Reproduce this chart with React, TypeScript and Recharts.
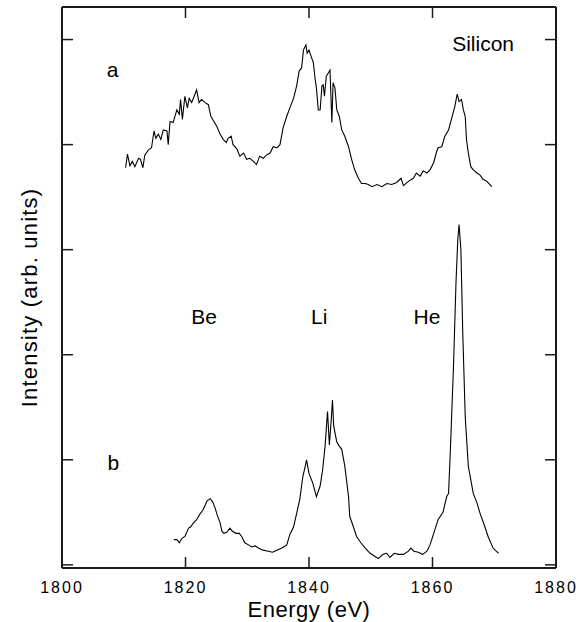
import { LineChart, Line, XAxis, YAxis, ReferenceDot } from 'recharts'

// spectrum a (upper trace)
const energyA = [
  1810.3, 1810.6, 1811.0, 1811.4, 1811.8, 1812.4, 1812.7, 1813.1, 1813.4, 1814.0, 1814.5, 1814.9, 1815.2,
  1815.6, 1816.0, 1816.4, 1817.0, 1817.2, 1817.5, 1818.0, 1818.6, 1819.0, 1819.2, 1819.5, 1819.9, 1820.3,
  1820.6, 1821.0, 1821.4, 1821.8, 1822.2, 1822.6, 1823.2, 1823.7, 1824.1, 1824.6, 1825.1, 1825.6, 1826.1,
  1826.6, 1826.9, 1827.4, 1827.7, 1828.3, 1828.8, 1829.4, 1829.9, 1830.4, 1831.0, 1831.5, 1832.0, 1832.6,
  1833.1, 1833.7, 1834.2, 1834.8, 1835.3, 1835.8, 1836.4, 1836.9, 1837.5, 1838.0, 1838.4, 1838.8, 1839.1,
  1839.5, 1839.7, 1840.0, 1840.4, 1840.7, 1841.0, 1841.2, 1841.5, 1841.8, 1842.1, 1842.3, 1842.5, 1842.8,
  1843.1, 1843.4, 1843.7, 1843.9, 1844.2, 1844.5, 1844.9, 1845.3, 1845.8, 1846.4, 1846.9, 1847.4, 1848.0,
  1848.5, 1849.1, 1849.6, 1850.2, 1851.0, 1851.8, 1852.6, 1853.4, 1854.2, 1854.9, 1855.3, 1856.1, 1856.9,
  1857.4, 1858.0, 1858.5, 1859.1, 1859.6, 1860.2, 1860.6, 1860.9, 1861.5, 1862.0, 1862.6, 1863.1, 1863.6,
  1864.0, 1864.3, 1864.7, 1865.0, 1865.3, 1865.5, 1865.8, 1866.2, 1866.6, 1867.2, 1867.7, 1868.2, 1868.8,
  1869.3, 1869.6,
]
const intensityA = [
  3.78, 3.91, 3.8, 3.84, 3.79, 3.87, 3.86, 3.78, 3.9, 3.95, 3.97, 4.13, 4.06,
  4.1, 4.05, 4.14, 4.13, 4.0, 4.22, 4.21, 4.33, 4.29, 4.43, 4.24, 4.46, 4.35,
  4.44, 4.4, 4.46, 4.52, 4.4, 4.43, 4.4, 4.38, 4.27, 4.22, 4.17, 4.1, 4.05,
  4.02, 4.06, 4.08, 4.0, 3.96, 3.89, 3.92, 3.86, 3.87, 3.84, 3.81, 3.89, 3.87,
  3.9, 3.92, 3.98, 3.97, 4.0, 4.16, 4.27, 4.35, 4.44, 4.56, 4.7, 4.73, 4.9,
  4.95, 4.87, 4.9, 4.83, 4.78, 4.62, 4.54, 4.33, 4.33, 4.56, 4.57, 4.46, 4.65,
  4.68, 4.71, 4.21, 4.59, 4.54, 4.33, 4.27, 4.14, 4.08, 3.98, 3.86, 3.76, 3.68,
  3.63, 3.63, 3.62, 3.6, 3.62, 3.6, 3.63, 3.62, 3.64, 3.68, 3.61, 3.65, 3.68,
  3.73, 3.7, 3.75, 3.73, 3.76, 3.83, 3.92, 3.97, 3.98, 4.08, 4.14, 4.25, 4.36,
  4.48, 4.41, 4.43, 4.33, 4.27, 4.05, 3.92, 3.79, 3.76, 3.73, 3.71, 3.67, 3.65,
  3.62, 3.6,
]

// spectrum b (lower trace)
const energyB = [
  1818.1, 1818.6, 1819.0, 1819.4, 1819.9, 1820.5, 1820.8, 1821.3, 1821.8, 1822.3, 1822.8, 1823.2, 1823.5,
  1824.0, 1824.4, 1824.8, 1825.1, 1825.6, 1825.9, 1826.2, 1826.7, 1827.2, 1827.6, 1828.2, 1828.7, 1829.1,
  1829.6, 1830.2, 1830.7, 1831.3, 1831.8, 1832.6, 1833.4, 1834.1, 1834.8, 1835.6, 1836.4, 1836.9, 1837.5,
  1838.0, 1838.5, 1839.0, 1839.4, 1839.6, 1840.0, 1840.6, 1841.2, 1841.8, 1842.2, 1842.6, 1843.0, 1843.3,
  1843.6, 1843.8, 1844.0, 1844.5, 1844.9, 1845.3, 1845.8, 1846.4, 1846.6, 1847.2, 1847.7, 1848.4, 1849.1,
  1849.9, 1850.7, 1851.2, 1852.0, 1852.6, 1853.1, 1853.8, 1854.5, 1855.3, 1856.1, 1856.5, 1857.0, 1857.7,
  1858.4, 1859.1, 1859.6, 1860.2, 1860.9, 1861.7, 1862.3, 1862.6, 1862.9, 1863.4, 1863.8, 1864.1, 1864.3,
  1864.6, 1864.9, 1865.3, 1865.8, 1866.6, 1867.2, 1867.7, 1868.5, 1869.0, 1869.8, 1870.7,
]
const intensityB = [
  0.24, 0.24, 0.21, 0.25, 0.27, 0.35, 0.36, 0.4, 0.43, 0.48, 0.52, 0.57, 0.61,
  0.63, 0.6, 0.54, 0.48, 0.4, 0.32, 0.3, 0.31, 0.35, 0.32, 0.3, 0.3, 0.27,
  0.21, 0.19, 0.17, 0.18, 0.16, 0.14, 0.13, 0.12, 0.14, 0.16, 0.19, 0.29, 0.36,
  0.49, 0.62, 0.84, 0.94, 1.0, 0.87, 0.78, 0.65, 0.75, 0.9, 1.13, 1.46, 1.14,
  1.38, 1.57, 1.32, 1.17, 1.13, 1.1, 0.94, 0.65, 0.46, 0.36, 0.27, 0.21, 0.16,
  0.11, 0.08, 0.06, 0.1, 0.11, 0.07, 0.11, 0.1, 0.1, 0.13, 0.16, 0.13, 0.12,
  0.1, 0.13, 0.19, 0.3, 0.43, 0.5, 0.65, 0.68, 1.1, 1.89, 2.68, 3.1, 3.24,
  3.0, 2.21, 1.41, 0.94, 0.68, 0.59, 0.49, 0.36, 0.27, 0.16, 0.11,
]

const energyTicks = [1800, 1820, 1840, 1860, 1880]
const topTicks = [1820, 1840, 1860]
const intensityTicks = [0, 1, 2, 3, 4, 5]

const seriesA = energyA.map((e, i) => ({ e, i: intensityA[i] }))
const seriesB = energyB.map((e, i) => ({ e, i: intensityB[i] }))

const font = '"Liberation Sans", Arial, Helvetica, sans-serif'
const ink = '#1a1a1a'
const tickLen = 11

function BottomTick({ x, y, payload }: any) {
  return (
    <g>
      <line x1={x} y1={y} x2={x} y2={y - tickLen} stroke={ink} strokeWidth={1.5} />
      <text x={x} y={y + 25} textAnchor="middle" fontSize={16} letterSpacing={2} fill="#000">
        {payload.value}
      </text>
    </g>
  )
}

function TopTick({ x, y }: any) {
  return <line x1={x} y1={y} x2={x} y2={y + tickLen} stroke={ink} strokeWidth={1.5} />
}

function LeftTick({ x, y }: any) {
  return <line x1={x} y1={y} x2={x + tickLen} y2={y} stroke={ink} strokeWidth={1.5} />
}

function RightTick({ x, y }: any) {
  return <line x1={x} y1={y} x2={x - tickLen} y2={y} stroke={ink} strokeWidth={1.5} />
}

function XTitle({ viewBox }: any) {
  const cx = viewBox.x + viewBox.width / 2
  return (
    <text x={cx} y={568 + 49} textAnchor="middle" fontSize={22} letterSpacing={0.5} fill="#000">
      Energy (eV)
    </text>
  )
}

function YTitle({ viewBox }: any) {
  const bx = 37
  const cy = viewBox.y + viewBox.height / 2 + 10
  return (
    <text
      x={bx}
      y={cy}
      transform={`rotate(-90 ${bx} ${cy})`}
      textAnchor="middle"
      fontSize={22}
      letterSpacing={1.2}
      fill="#000"
    >
      Intensity (arb. units)
    </text>
  )
}

const textLabel = (value: string) => ({ value, position: 'center' as const, fontSize: 21, fill: '#000' })

export default function App() {
  const axisLine = { stroke: ink, strokeWidth: 2 }
  return (
    <div style={{ position: 'absolute', left: 0, top: 0, background: '#fff', fontFamily: font }}>
      <LineChart width={586} height={622} margin={{ top: 6, right: 29, bottom: 30, left: 61 }}>
        <XAxis
          dataKey="e"
          type="number"
          domain={[1800, 1880]}
          ticks={energyTicks}
          interval={0}
          height={24}
          tickSize={0}
          tickMargin={0}
          tickLine={false}
          axisLine={axisLine}
          tick={<BottomTick />}
          label={XTitle}
          allowDataOverflow
        />
        <XAxis
          xAxisId="top"
          orientation="top"
          dataKey="e"
          type="number"
          domain={[1800, 1880]}
          ticks={topTicks}
          interval={0}
          height={1}
          tickSize={0}
          tickMargin={0}
          tickLine={false}
          axisLine={axisLine}
          tick={<TopTick />}
          allowDataOverflow
        />
        <YAxis
          type="number"
          domain={[-0.03, 5.31]}
          ticks={intensityTicks}
          interval={0}
          width={1}
          tickSize={0}
          tickMargin={0}
          tickLine={false}
          axisLine={axisLine}
          tick={<LeftTick />}
          label={YTitle}
          allowDataOverflow
        />
        <YAxis
          yAxisId="right"
          orientation="right"
          type="number"
          domain={[-0.03, 5.31]}
          ticks={intensityTicks}
          interval={0}
          width={1}
          tickSize={0}
          tickMargin={0}
          tickLine={false}
          axisLine={axisLine}
          tick={<RightTick />}
          allowDataOverflow
        />
        <Line
          data={seriesA}
          dataKey="i"
          type="linear"
          stroke="#000"
          strokeWidth={1.1}
          dot={false}
          isAnimationActive={false}
        />
        <Line
          data={seriesB}
          dataKey="i"
          type="linear"
          stroke="#000"
          strokeWidth={1.1}
          dot={false}
          isAnimationActive={false}
        />
        <ReferenceDot x={1808.2} y={4.71} r={0} fill="none" stroke="none" label={textLabel('a')} />
        <ReferenceDot x={1808.3} y={0.97} r={0} fill="none" stroke="none" label={textLabel('b')} />
        <ReferenceDot x={1823.0} y={2.36} r={0} fill="none" stroke="none" label={textLabel('Be')} />
        <ReferenceDot x={1841.65} y={2.36} r={0} fill="none" stroke="none" label={textLabel('Li')} />
        <ReferenceDot x={1859.1} y={2.36} r={0} fill="none" stroke="none" label={textLabel('He')} />
        <ReferenceDot x={1868.2} y={4.96} r={0} fill="none" stroke="none" label={textLabel('Silicon')} />
      </LineChart>
    </div>
  )
}
